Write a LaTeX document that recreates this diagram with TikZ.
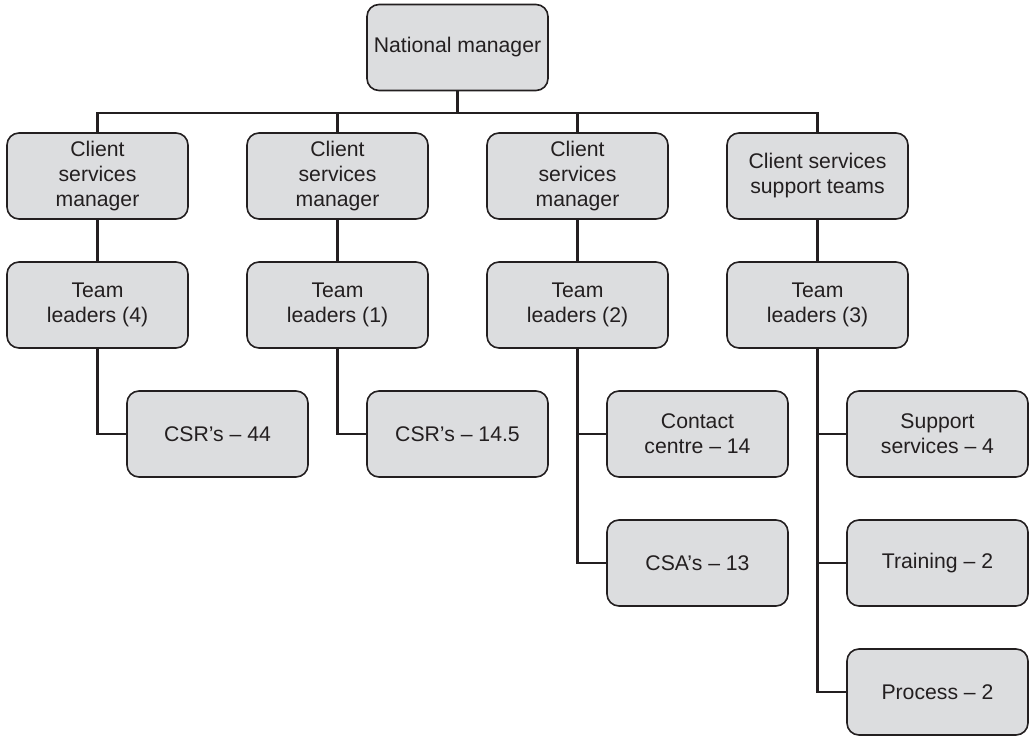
\documentclass[tikz,border=0pt]{standalone}
\usepackage{fontspec}
\setmainfont{Liberation Sans}
\definecolor{boxgray}{HTML}{DCDDDF}
\definecolor{inkgray}{HTML}{231F20}

\begin{document}
\begin{tikzpicture}
  [x=0.5pt,y=-0.5pt,
    every node/.style={draw=inkgray,fill=boxgray,rounded corners=6pt,line width=0.8pt,
      minimum width=90.5pt,minimum height=43pt,inner sep=2pt,align=center,
    text=inkgray,font=\fontsize{10.6}{12.5}\selectfont},
    link/.style={draw=inkgray,line width=1.4pt},
  ]
  \useasboundingbox (0,0) rectangle (1030,735);

  % top and managers
  \node (nat) at (457.5,47.5) {National manager};
  \node (csm1) at (97.5,176) {Client\\services\\manager};
  \node (csm2) at (337.5,176) {Client\\services\\manager};
  \node (csm3) at (577.5,176) {Client\\services\\manager};
  \node (csm4) at (817.5,176) {Client services\\support teams};

  % team leaders
  \node (tl1) at (97.5,305) {Team\\leaders (4)};
  \node (tl2) at (337.5,305) {Team\\leaders (1)};
  \node (tl3) at (577.5,305) {Team\\leaders (2)};
  \node (tl4) at (817.5,305) {Team\\leaders (3)};

  % staff
  \node (csr1) at (217.5,434) {CSR's -- 44};
  \node (csr2) at (457.5,434) {CSR's -- 14.5};
  \node (cc) at (697.5,434) {Contact\\centre -- 14};
  \node (csa) at (697.5,563) {CSA's -- 13};
  \node (sup) at (937.5,434) {Support\\services -- 4};
  \node (trn) at (937.5,563) {Training -- 2};
  \node (proc) at (937.5,692) {Process -- 2};

  \coordinate (bus) at (457.5,113);
  \draw[link] (nat) -- (bus);
  \draw[link] (csm1.north) |- (bus) -| (csm4.north);
  \draw[link] (csm2.north) -- (csm2.north |- bus);
  \draw[link] (csm3.north) -- (csm3.north |- bus);

  \draw[link] (csm1) -- (tl1);
  \draw[link] (csm2) -- (tl2);
  \draw[link] (csm3) -- (tl3);
  \draw[link] (csm4) -- (tl4);

  \draw[link] (tl1.south) |- (csr1.west);
  \draw[link] (tl2.south) |- (csr2.west);
  \draw[link] (tl3.south) |- (cc.west);
  \draw[link] (tl3.south) |- (csa.west);
  \draw[link] (tl4.south) |- (sup.west);
  \draw[link] (tl4.south) |- (trn.west);
  \draw[link] (tl4.south) |- (proc.west);
\end{tikzpicture}
\end{document}
